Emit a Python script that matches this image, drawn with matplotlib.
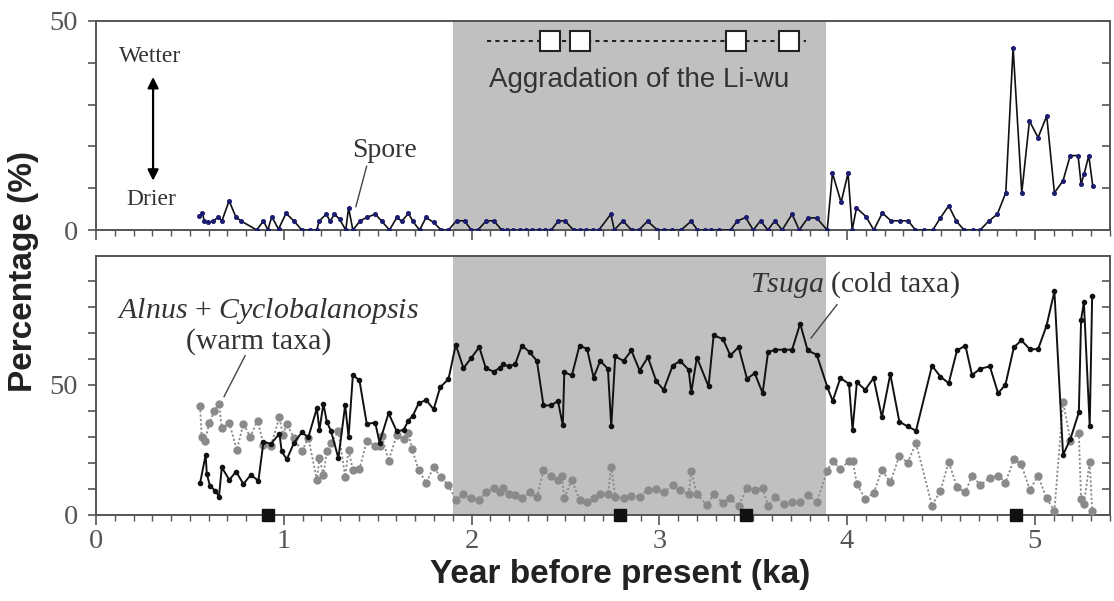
import matplotlib
matplotlib.use("Agg")
import matplotlib.pyplot as plt
from matplotlib.ticker import MultipleLocator

plt.rcParams["mathtext.fontset"] = "custom"
plt.rcParams["mathtext.it"] = "Liberation Serif:italic"
plt.rcParams["mathtext.rm"] = "Liberation Serif"

# ---------------- data ----------------
spore_age = [0.551, 0.567, 0.577, 0.599, 0.625, 0.652, 0.670, 0.709, 0.744, 0.771, 0.856, 0.892,
             0.915, 0.936, 0.972, 1.012, 1.055, 1.096, 1.137, 1.176, 1.188, 1.226, 1.247, 1.270,
             1.297, 1.330, 1.345, 1.368, 1.407, 1.442, 1.487, 1.522, 1.563, 1.602, 1.629, 1.664,
             1.687, 1.723, 1.758, 1.798, 1.838, 1.877, 1.920, 1.963, 1.998, 2.034, 2.078, 2.119,
             2.160, 2.188, 2.222, 2.256, 2.290, 2.324, 2.358, 2.392, 2.424, 2.463, 2.497, 2.543,
             2.578, 2.610, 2.647, 2.678, 2.742, 2.760, 2.806, 2.852, 2.891, 2.937, 2.990, 3.024,
             3.070, 3.116, 3.169, 3.203, 3.242, 3.276, 3.317, 3.379, 3.414, 3.459, 3.500, 3.539,
             3.578, 3.615, 3.654, 3.707, 3.745, 3.791, 3.837, 3.894, 3.922, 3.968, 4.005, 4.027,
             4.050, 4.101, 4.142, 4.188, 4.233, 4.279, 4.325, 4.364, 4.410, 4.456, 4.497, 4.541,
             4.582, 4.623, 4.669, 4.708, 4.754, 4.800, 4.845, 4.884, 4.930, 4.971, 5.017, 5.063,
             5.104, 5.150, 5.188, 5.230, 5.246, 5.262, 5.287, 5.308]
spore_pct = [3.4, 4.0, 2.1, 1.8, 2.1, 3.2, 2.1, 7.0, 3.2, 2.2, 0.0, 2.2,
             0.0, 3.2, 0.2, 4.0, 2.1, 0.0, 0.0, 0.0, 2.1, 3.8, 2.1, 3.8,
             2.6, 0.0, 5.3, 0.0, 2.2, 3.0, 3.8, 2.1, 0.0, 3.0, 2.1, 4.0,
             2.1, 0.0, 3.0, 1.8, 0.0, 0.0, 2.2, 2.2, 0.0, 0.0, 2.2, 2.2,
             0.0, 0.0, 0.0, 0.0, 0.0, 0.0, 0.0, 0.0, 0.0, 2.2, 2.2, 0.0,
             0.0, 0.0, 0.0, 0.0, 3.8, 0.0, 2.2, 0.0, 0.0, 2.1, 0.0, 0.0,
             0.0, 0.0, 2.1, 0.0, 0.0, 0.0, 0.0, 0.0, 2.1, 3.0, 0.0, 2.2,
             0.0, 2.2, 0.0, 3.8, 0.0, 2.9, 2.9, 0.0, 13.6, 6.6, 13.6, 0.0,
             5.3, 3.2, 0.0, 4.1, 2.2, 2.2, 2.2, 0.0, 0.0, 0.0, 2.9, 5.8,
             2.1, 0.0, 0.0, 0.0, 2.1, 3.8, 8.9, 43.6, 8.9, 26.1, 22.1, 27.3,
             8.9, 11.8, 17.8, 17.8, 11.0, 13.4, 17.8, 10.6]

tsuga_age = [0.554, 0.584, 0.590, 0.607, 0.634, 0.655, 0.670, 0.710, 0.746, 0.785, 0.824, 0.865,
             0.892, 0.931, 0.977, 0.989, 1.016, 1.055, 1.096, 1.131, 1.176, 1.190, 1.211, 1.229,
             1.252, 1.291, 1.327, 1.345, 1.368, 1.403, 1.442, 1.487, 1.510, 1.558, 1.602, 1.638,
             1.664, 1.687, 1.718, 1.758, 1.798, 1.833, 1.877, 1.916, 1.957, 1.998, 2.041, 2.076,
             2.117, 2.149, 2.170, 2.197, 2.232, 2.268, 2.309, 2.348, 2.383, 2.424, 2.460, 2.486,
             2.494, 2.534, 2.575, 2.615, 2.650, 2.685, 2.726, 2.744, 2.765, 2.810, 2.851, 2.895,
             2.939, 2.984, 3.023, 3.071, 3.111, 3.156, 3.170, 3.200, 3.262, 3.289, 3.339, 3.378,
             3.422, 3.467, 3.508, 3.550, 3.579, 3.618, 3.663, 3.707, 3.750, 3.790, 3.838, 3.895,
             3.923, 3.964, 4.010, 4.029, 4.052, 4.096, 4.141, 4.185, 4.230, 4.278, 4.322, 4.367,
             4.452, 4.497, 4.541, 4.585, 4.630, 4.665, 4.710, 4.760, 4.804, 4.843, 4.888, 4.928,
             4.973, 5.017, 5.062, 5.104, 5.150, 5.189, 5.234, 5.246, 5.261, 5.292, 5.305]
tsuga_pct = [12.2, 23.1, 15.8, 11.2, 9.4, 7.1, 18.3, 13.5, 16.7, 11.9, 15.4, 13.2,
             28.2, 27.3, 31.2, 24.4, 21.4, 27.8, 31.7, 29.9, 41.0, 32.7, 42.7, 35.9,
             32.1, 21.8, 42.3, 29.9, 53.8, 51.7, 35.0, 35.5, 27.8, 39.1, 32.1, 32.7,
             36.3, 38.1, 42.9, 44.2, 40.6, 49.1, 52.2, 65.4, 56.4, 60.3, 64.5, 56.4,
             55.1, 56.4, 57.9, 57.1, 57.9, 65.1, 62.6, 59.2, 42.1, 42.1, 43.8, 34.4,
             54.9, 53.6, 65.1, 63.8, 52.8, 59.2, 56.2, 34.0, 60.9, 59.2, 63.2, 55.5,
             60.6, 51.3, 48.1, 57.4, 59.2, 55.8, 47.1, 60.5, 49.4, 69.0, 67.6, 61.3,
             64.5, 52.3, 54.5, 46.8, 62.6, 63.5, 63.5, 63.5, 73.5, 63.2, 61.6, 49.1,
             43.8, 52.6, 50.4, 32.6, 51.0, 48.1, 52.6, 37.6, 54.1, 35.9, 34.0, 32.4,
             57.3, 53.2, 50.6, 63.2, 65.1, 53.8, 56.2, 57.1, 46.8, 50.0, 64.4, 67.1,
             63.7, 63.7, 72.7, 85.9, 23.1, 29.2, 39.4, 75.0, 81.7, 34.1, 84.0]

warm_age = [0.554, 0.563, 0.581, 0.604, 0.631, 0.655, 0.670, 0.710, 0.750, 0.785, 0.821, 0.861,
            0.892, 0.931, 0.977, 0.995, 1.016, 1.055, 1.096, 1.131, 1.176, 1.190, 1.211, 1.229,
            1.252, 1.291, 1.327, 1.345, 1.368, 1.403, 1.442, 1.487, 1.510, 1.522, 1.558, 1.602,
            1.638, 1.664, 1.682, 1.718, 1.758, 1.798, 1.838, 1.877, 1.916, 1.957, 1.998, 2.041,
            2.076, 2.117, 2.149, 2.170, 2.197, 2.232, 2.268, 2.309, 2.348, 2.383, 2.424, 2.460,
            2.481, 2.494, 2.534, 2.575, 2.615, 2.650, 2.685, 2.726, 2.744, 2.765, 2.810, 2.851,
            2.895, 2.939, 2.984, 3.023, 3.071, 3.111, 3.156, 3.170, 3.200, 3.254, 3.289, 3.339,
            3.378, 3.422, 3.467, 3.508, 3.550, 3.579, 3.618, 3.663, 3.707, 3.750, 3.791, 3.838,
            3.894, 3.923, 3.964, 4.010, 4.029, 4.052, 4.096, 4.141, 4.185, 4.230, 4.278, 4.322,
            4.367, 4.452, 4.497, 4.541, 4.585, 4.630, 4.665, 4.710, 4.760, 4.804, 4.843, 4.888,
            4.928, 4.973, 5.017, 5.062, 5.104, 5.150, 5.189, 5.234, 5.246, 5.261, 5.292, 5.305]
warm_pct = [41.9, 29.9, 28.6, 35.5, 40.1, 42.7, 33.3, 35.3, 25.0, 35.0, 30.1, 36.3,
            26.9, 26.5, 37.6, 30.8, 35.0, 29.5, 24.4, 29.7, 13.5, 21.8, 15.4, 24.4,
            27.8, 32.1, 14.7, 25.0, 17.3, 17.6, 28.6, 26.5, 26.5, 30.5, 20.9, 30.8,
            29.1, 31.4, 25.4, 17.3, 12.4, 18.3, 14.5, 11.4, 5.8, 7.9, 6.4, 5.8,
            8.7, 10.5, 8.7, 10.5, 7.9, 7.7, 6.4, 8.7, 6.8, 17.1, 15.0, 13.5,
            15.0, 6.4, 13.5, 5.8, 4.9, 6.4, 7.9, 7.9, 18.6, 7.1, 6.4, 7.3,
            7.1, 9.6, 10.0, 8.7, 11.5, 9.6, 7.9, 16.9, 7.9, 3.8, 7.9, 4.7,
            6.4, 3.5, 10.5, 9.6, 10.3, 3.5, 7.1, 4.2, 5.1, 5.1, 7.7, 4.9,
            16.9, 20.9, 17.5, 20.9, 20.9, 12.0, 6.2, 8.3, 17.3, 12.6, 22.7, 20.1,
            27.6, 3.6, 9.2, 20.5, 10.6, 8.7, 15.1, 11.5, 14.4, 15.1, 12.4, 21.4,
            19.5, 9.6, 15.1, 6.4, 1.7, 43.6, 28.6, 31.4, 6.0, 4.2, 20.5, 1.5]

dated_age = [0.916, 2.79, 3.46, 4.90]          # black squares on the age axis
aggradation_age = [2.42, 2.58, 3.41, 3.69]     # open squares (Li-wu aggradation)
aggradation_span = [2.08, 3.78]
shade_span = [1.90, 3.89]

x_ticks = [0, 1, 2, 3, 4, 5]

# ---------------- style ----------------
SERIF = ["Liberation Serif", "DejaVu Serif"]
SANS = ["Liberation Sans", "DejaVu Sans"]
TXT = "#333333"
SPINE = "#555555"
SHADE = "#c0c0c0"

W, H = 1114, 601
fig = plt.figure(figsize=(W / 100, H / 100), dpi=100)

def frac_axes(x0, y0, x1, y1):
    return fig.add_axes([x0 / W, 1 - y1 / H, (x1 - x0) / W, (y1 - y0) / H])

ax1 = frac_axes(96, 21, 1110, 230)
ax2 = frac_axes(96, 256, 1110, 515)

def style_axes(ax, ymax, yticks, show_xlabels):
    ax.set_xlim(0, 5.4)
    ax.set_ylim(0, ymax)
    for s in ax.spines.values():
        s.set_color(SPINE)
        s.set_linewidth(1.4)
    ax.set_yticks(yticks)
    ax.set_yticklabels([str(t) if t in (0, 50) else "" for t in yticks])
    ax.set_xticks(x_ticks)
    ax.xaxis.set_minor_locator(MultipleLocator(0.1))
    if show_xlabels:
        ax.set_xticklabels([str(t) for t in x_ticks])
    else:
        ax.set_xticklabels([])
    ax.tick_params(axis="y", direction="out", length=6, width=1.2, color=SPINE,
                   labelsize=20.5, labelcolor="#555555", pad=7)
    ax.tick_params(axis="x", which="major", direction="out", length=7, width=1.2,
                   color=SPINE, labelsize=20.5, labelcolor="#555555", pad=3)
    ax.tick_params(axis="x", which="minor", direction="out", length=4, width=1.0,
                   color=SPINE)
    for lab in ax.get_xticklabels() + ax.get_yticklabels():
        lab.set_fontfamily(SERIF)
    # right-hand inward ticks
    tw = ax.twinx()
    tw.set_ylim(0, ymax)
    tw.set_yticks(yticks)
    tw.tick_params(axis="y", direction="in", length=6, width=1.2, color=SPINE,
                   labelright=False)
    for s in tw.spines.values():
        s.set_visible(False)
    ax.axvspan(shade_span[0], shade_span[1], color=SHADE, lw=0, zorder=0)

style_axes(ax1, 50, [0, 10, 20, 30, 40, 50], False)
style_axes(ax2, 99.5, [0, 10, 20, 30, 40, 50, 60, 70, 80, 90], True)

# ---------------- top panel: spore ----------------
ax1.plot(spore_age, spore_pct, color="#111111", lw=1.2, marker="o", ms=2.6,
         mfc="#1c1c70", mec="#1c1c70", zorder=3)
ax1.plot(aggradation_span, [45.2, 45.2], color="#222222", ls=(0, (2, 2)), lw=1.5, zorder=3)
ax1.plot(aggradation_age, [45.2] * len(aggradation_age), ls="none", marker="s", ms=14.5,
         mfc="white", mec="#222222", mew=1.5, zorder=4)
ax1.text(2.89, 35.9, "Aggradation of the Li-wu", family=SANS, fontsize=20,
         color=TXT, ha="center", va="center")
ax1.annotate("", xy=(0.304, 11.8), xytext=(0.304, 36.6),
             arrowprops=dict(arrowstyle="<|-|>", color="black", lw=1.6,
                             mutation_scale=16, shrinkA=0, shrinkB=0))
ax1.text(0.29, 41.4, "Wetter", family=SERIF, fontsize=17, color=TXT,
         ha="center", va="center")
ax1.text(0.296, 7.4, "Drier", family=SERIF, fontsize=17, color=TXT,
         ha="center", va="center")
ax1.text(1.535, 19.1, "Spore", family=SERIF, fontsize=20, color=TXT,
         ha="center", va="center")
ax1.plot([1.441, 1.384], [15.2, 5.6], color="#444444", lw=1.0, zorder=3)

# ---------------- bottom panel ----------------
ax2.plot(warm_age, warm_pct, color="#8a8a8a", lw=1.3, ls=(0, (1.2, 1.2)), marker="o",
         ms=5, mfc="#8a8a8a", mec="#8a8a8a", zorder=3)
ax2.plot(tsuga_age, tsuga_pct, color="#111111", lw=1.4, marker="o", ms=3,
         mfc="#111111", mec="#111111", zorder=4)
ax2.plot(dated_age, [0] * len(dated_age), ls="none", marker="s", ms=8,
         color="#111111", clip_on=False, zorder=6)

ax2.text(0.916, 78.2, r"$\mathit{Alnus}$ + $\mathit{Cyclobalanopsis}$", family=SERIF,
         fontsize=21.5, color=TXT, ha="center", va="center")
ax2.text(0.868, 66.7, "(warm taxa)", family=SERIF, fontsize=21.5, color=TXT,
         ha="center", va="center")
ax2.plot([0.794, 0.682], [61.2, 45.5], color="#444444", lw=1.0, zorder=3)

ax2.text(4.04, 88.5, r"$\mathit{Tsuga}$ (cold taxa)", family=SERIF, fontsize=21.5,
         color=TXT, ha="center", va="center")
ax2.plot([3.946, 3.808], [80.8, 68.0], color="#444444", lw=1.0, zorder=3)

# axis labels
fig.text(620 / W, 1 - 574 / H, "Year before present (ka)",
         family=SANS, fontweight="bold", fontsize=24, color="#222222",
         ha="center", va="center")
fig.text(24 / W, 1 - 272 / H, "Percentage (%)", family=SANS, fontweight="bold",
         fontsize=24, color="#222222", rotation=90, ha="center", va="center")

fig.savefig("out.png", dpi=100)
